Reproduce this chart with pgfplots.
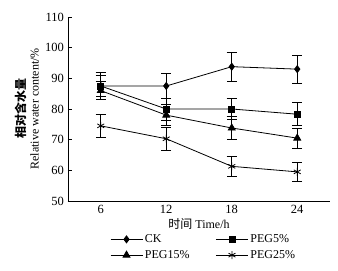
\documentclass[border=0pt]{standalone}
\usepackage{pgfplots}
\pgfplotsset{compat=1.18}
\usepackage{fontspec}
\setmainfont{Liberation Serif}
\newfontfamily\cjk{Noto Sans CJK SC}
\begin{document}
\fontsize{12}{14}\selectfont
\begin{tikzpicture}
\begin{axis}[
  scale only axis, width=262pt, height=184pt,
  xmin=-0.5, xmax=3.5, ymin=50, ymax=110,
  axis x line*=bottom, axis y line*=left,
  xtick={0,1,2,3}, xticklabels={6,12,18,24},
  major x tick style={draw=none},
  extra x ticks={0.5,1.5,2.5,3.5}, extra x tick labels={},
  extra x tick style={major tick length=4pt, tick style={draw=black}},
  ytick={50,60,...,110},
  tick align=inside, major tick length=4pt,
  tick style={black, line width=0.6pt},
  axis line style={line width=0.6pt},
  /pgf/number format/assume math mode=true,
  ticklabel style={font=\fontsize{12.5}{14}\selectfont},
  xlabel={{\cjk 时间} Time/h},
  ylabel={\shortstack{{\cjk\bfseries 相对含水量}\\[1pt]Relative water content/\%}},
  xlabel style={font=\fontsize{12}{14}\selectfont, yshift=3pt},
  ylabel style={font=\fontsize{12}{14}\selectfont, yshift=-2pt},
  legend style={draw=none, fill=none, at={(0.16,-0.17)}, anchor=north west, font=\fontsize{12}{14}\selectfont, /tikz/column 2/.style={column sep=24pt}, row sep=2pt, inner sep=0pt},
  legend columns=2,
  legend cell align=left,
  legend image code/.code={\draw[#1, mark=none] (0pt,0pt) -- (32pt,0pt); \draw[#1, only marks] plot coordinates {(16pt,0pt)};},
]
\coordinate (sw) at (rel axis cs:0,0);
\coordinate (ne) at (rel axis cs:1,1);
\addplot[black, line width=0.8pt, mark=diamond*, mark size=3.5pt, mark options={fill=black, solid}, error bars/.cd, y dir=both, y explicit, error bar style={line width=0.8pt, black}, error mark options={rotate=90, mark size=5pt, line width=0.8pt, black}]
 coordinates {(0,87.5) +- (0,4.5) (1,87.5) +- (0,4.2) (2,93.8) +- (0,4.7) (3,93.0) +- (0,4.5)};
\addlegendentry{CK}
\addplot[black, line width=0.8pt, mark=square*, mark size=3pt, mark options={fill=black, solid}, error bars/.cd, y dir=both, y explicit, error bar style={line width=0.8pt, black}, error mark options={rotate=90, mark size=5pt, line width=0.8pt, black}]
 coordinates {(0,87.5) +- (0,3.5) (1,80.0) +- (0,3.6) (2,80.0) +- (0,3.5) (3,78.3) +- (0,3.7)};
\addlegendentry{PEG5\%}
\addplot[black, line width=0.8pt, mark=triangle*, mark size=4pt, mark options={fill=black, solid}, error bars/.cd, y dir=both, y explicit, error bar style={line width=0.8pt, black}, error mark options={rotate=90, mark size=5pt, line width=0.8pt, black}]
 coordinates {(0,86.0) +- (0,3.0) (1,78.0) +- (0,3.5) (2,73.8) +- (0,3.7) (3,70.5) +- (0,3.2)};
\addlegendentry{PEG15\%}
\addplot[black, line width=0.8pt, mark=asterisk, mark size=4pt, mark options={line width=0.8pt, solid}, error bars/.cd, y dir=both, y explicit, error bar style={line width=0.8pt, black}, error mark options={rotate=90, mark size=5pt, line width=0.8pt, black}]
 coordinates {(0,74.5) +- (0,3.8) (1,70.3) +- (0,3.7) (2,61.3) +- (0,3.2) (3,59.5) +- (0,3.0)};
\addlegendentry{PEG25\%}
\end{axis}
\pgfresetboundingbox
\path[use as bounding box] ([shift={(-68pt,-70pt)}]sw) rectangle ([shift={(8pt,17pt)}]ne);
\end{tikzpicture}
\end{document}
